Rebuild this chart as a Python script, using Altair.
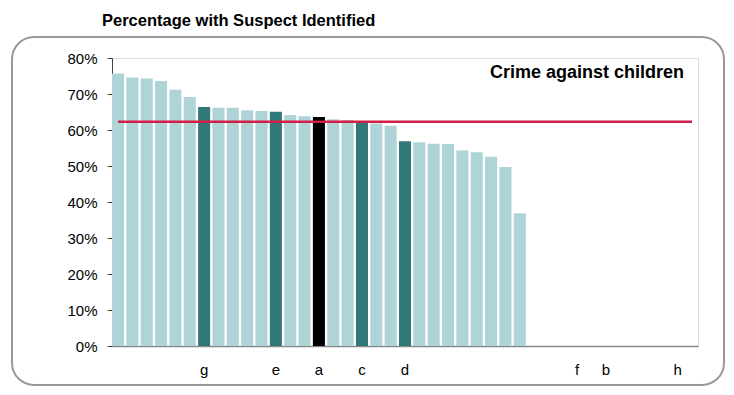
import altair as alt
import pandas as pd

# ---- data ----
values = [75.7, 74.6, 74.3, 73.6, 71.2, 69.2, 66.4, 66.2, 66.2, 65.5, 65.3, 65.1,
          64.2, 63.8, 63.6, 63.0, 62.8, 62.4, 61.8, 61.2, 56.9, 56.6, 56.2, 56.1,
          54.3, 53.8, 52.6, 49.7, 36.9]
n_slots = 41
slot_labels = [""] * n_slots
for pos, lab in {6: "g", 11: "e", 14: "a", 17: "c", 20: "d", 32: "f", 34: "b", 39: "h"}.items():
    slot_labels[pos] = lab
highlight = {6: "peer", 11: "peer", 17: "peer", 20: "peer", 14: "focus"}
average = 62.3
y_ticks = [0, 10, 20, 30, 40, 50, 60, 70, 80]

title_text = "Percentage with Suspect Identified"
panel_text = "Crime against children"

df = pd.DataFrame({
    "slot": list(range(len(values))),
    "pct": [v / 100 for v in values],
    "group": [highlight.get(i, "other") for i in range(len(values))],
})
avg_df = pd.DataFrame({"start": [0], "end": [n_slots - 1], "avg": [average / 100]})

FONT = "Liberation Sans"
label_expr = "[" + ",".join("'" + s + "'" for s in slot_labels) + "][datum.value]"

xscale = alt.Scale(domain=list(range(n_slots)), paddingInner=0.16, paddingOuter=0)
yscale = alt.Scale(domain=[0, 0.8], nice=False)

x_axis = alt.Axis(labelExpr=label_expr, labelAngle=0, ticks=False,
                  domainColor="#888888", domainWidth=1.5,
                  labelFont=FONT, labelFontSize=15, labelColor="#000000",
                  labelPadding=16, labelOverlap=False)
y_axis = alt.Axis(values=[t / 100 for t in y_ticks], format=".0%", grid=False,
                  tickSize=5, tickColor="#444444", domainColor="#444444",
                  labelFont=FONT, labelFontSize=15, labelColor="#000000",
                  labelPadding=10, labelOverlap=False)

bars = alt.Chart(df).mark_bar().encode(
    x=alt.X("slot:O", scale=xscale, sort=None, title=None, axis=x_axis),
    y=alt.Y("pct:Q", scale=yscale, title=None, axis=y_axis),
    color=alt.Color("group:N", legend=None,
                    scale=alt.Scale(domain=["other", "peer", "focus"],
                                    range=["#AED4D7", "#30787A", "#000000"])),
)

avg_line = alt.Chart(avg_df).mark_rule(color="#D21F45", strokeWidth=2.5).encode(
    x=alt.X("start:O", scale=xscale, title=None, axis=x_axis),
    x2="end:O",
    y=alt.Y("avg:Q", scale=yscale, title=None, axis=y_axis),
)

panel_label = alt.Chart(pd.DataFrame({"t": [panel_text]})).mark_text(
    align="right", baseline="alphabetic", font=FONT, fontSize=18, fontWeight="bold",
    color="#000000",
).encode(text="t:N", x=alt.value(572), y=alt.value(20))

title = alt.Chart(pd.DataFrame({"t": [title_text]})).mark_text(
    align="left", baseline="alphabetic", font=FONT, fontSize=16.5, fontWeight="bold",
    color="#000000",
).encode(text="t:N", x=alt.value(-10), y=alt.value(-32))

frame = alt.Chart(pd.DataFrame({"k": [0]})).mark_rect(
    fill=None, stroke="#999999", strokeWidth=2, cornerRadius=22,
).encode(x=alt.value(-100), x2=alt.value(612), y=alt.value(-21), y2=alt.value(327))

chart = alt.layer(frame, bars, avg_line, panel_label, title).properties(
    width=586, height=288,
    autosize="none",
    padding={"left": 104, "top": 50, "right": 28, "bottom": 41},
).configure_view(stroke=None).configure(background="#ffffff")

chart.save("out.html", embed_options={"renderer": "svg", "actions": False})
